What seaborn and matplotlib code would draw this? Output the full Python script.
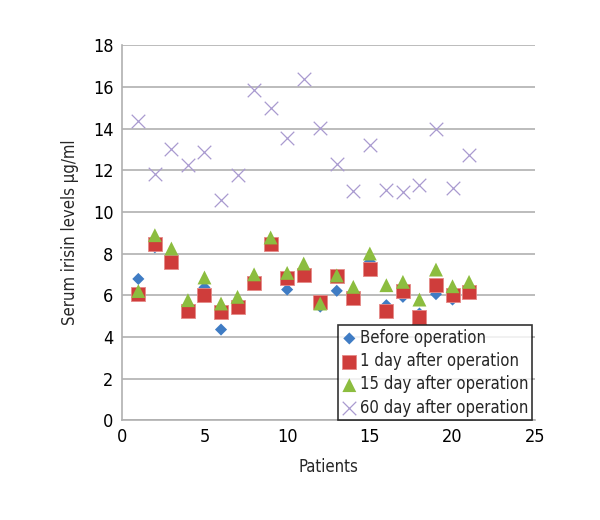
import pandas as pd
import matplotlib.pyplot as plt
import seaborn as sns

# data
patients = list(range(1, 22))
before_op = [6.78, 8.3, 7.9, 5.3, 6.37, 4.35, 5.5, 6.6, 8.5, 6.27, 7.0,
             5.45, 6.21, 5.9, 7.6, 5.52, 5.92, 5.12, 6.05, 5.79, 6.1]
day1_op = [6.08, 8.48, 7.57, 5.25, 6.0, 5.17, 5.44, 6.59, 8.48, 6.83, 6.96,
           5.68, 6.9, 5.87, 7.28, 5.25, 6.21, 4.93, 6.48, 6.0, 6.13]
day15_op = [6.2, 8.88, 8.24, 5.76, 6.85, 5.6, 5.92, 7.0, 8.77, 7.07, 7.52,
            5.6, 6.95, 6.4, 8.0, 6.48, 6.64, 5.79, 7.23, 6.43, 6.64]
day60_op = [14.37, 11.81, 13.0, 12.27, 12.87, 10.56, 11.75, 15.84, 15.01, 13.57, 16.4,
            14.05, 12.32, 10.98, 13.19, 11.07, 10.95, 11.3, 13.96, 11.14, 12.71]

series = ["Before operation", "1 day after operation",
          "15 day after operation", "60 day after operation"]

df = pd.DataFrame({
    "Patients": patients * 4,
    "Level": before_op + day1_op + day15_op + day60_op,
    "Series": [s for s in series for _ in patients],
})

sns.set_style("white")
plt.rcParams["font.family"] = ["DejaVu Sans"]
plt.rcParams["font.stretch"] = "condensed"

fig = plt.figure(figsize=(6, 5.2), dpi=100)
ax = fig.add_axes([0.203, 0.192, 0.689, 0.721])

styles = {
    "Before operation": dict(marker="D", color="#3f7cc4", s=38, edgecolor="none"),
    "1 day after operation": dict(marker="s", color="#cf3d3b", s=95, edgecolor="#e58a88", linewidth=0.6),
    "15 day after operation": dict(marker="^", color="#8cbd3f", s=100, edgecolor="none"),
    "60 day after operation": dict(marker="x", color="#a99ad0", s=95, linewidth=0.9),
}

for name in series:
    sub = df[df["Series"] == name]
    sns.scatterplot(data=sub, x="Patients", y="Level", ax=ax, label=name, zorder=3, **styles[name])

ax.set_xlim(0, 25)
ax.set_ylim(0, 18)
ax.set_xticks(range(0, 26, 5))
ax.set_yticks(range(0, 19, 2))
ax.yaxis.grid(True, color="#b0b0b0", linewidth=1.2)
ax.xaxis.grid(False)
for side in ["top", "right"]:
    ax.spines[side].set_visible(False)
for side in ["left", "bottom"]:
    ax.spines[side].set_color("#b0b0b0")
    ax.spines[side].set_linewidth(1.2)
ax.tick_params(labelsize=13, colors="black", length=0, pad=6)

ax.set_xlabel("Patients", fontsize=12, labelpad=8)
ax.set_ylabel("Serum irisin levels μg/ml", fontsize=12, labelpad=10)

# legend sits in the lower right, over the plot area
leg = ax.legend(loc="lower right", bbox_to_anchor=(532 / 600, 0.192),
                bbox_transform=fig.transFigure, fontsize=12, frameon=True,
                fancybox=False, borderpad=0.2, labelspacing=0.32,
                handletextpad=0.2, handlelength=0.9, borderaxespad=0)
leg.get_frame().set_edgecolor("black")
leg.get_frame().set_linewidth(1.2)
leg.set_zorder(5)

plt.savefig("out.png", dpi=100)
